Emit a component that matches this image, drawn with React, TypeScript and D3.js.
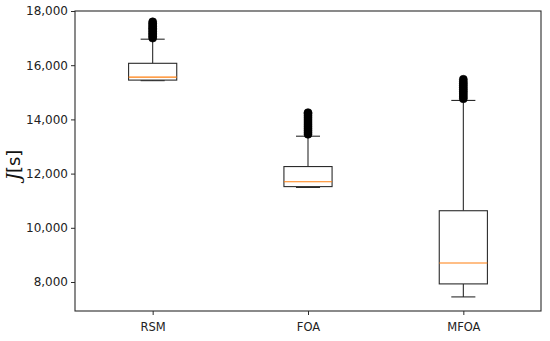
import * as d3 from 'd3'
import { useEffect, useRef } from 'react'

const W = 550
const H = 341
const M = { left: 75, right: 9, top: 11, bottom: 30 }

const categories = ['RSM', 'FOA', 'MFOA']
const q1 = [15450, 11520, 7930]
const medians = [15560, 11700, 8700]
const q3 = [16070, 12260, 10630]
const whiskLow = [15430, 11490, 7450]
const whiskHigh = [16960, 13380, 14700]
const fliersRSM = [17000, 17060, 17120, 17180, 17240, 17300, 17360, 17420, 17480, 17540, 17600]
const fliersFOA = [13450, 13520, 13590, 13660, 13730, 13800, 13870, 13940, 14010, 14080, 14150, 14220, 14250]
const fliersMFOA = [14760, 14830, 14900, 14970, 15040, 15110, 15180, 15250, 15320, 15390, 15480]
const fliers = [fliersRSM, fliersFOA, fliersMFOA]
const yTicks = [8000, 10000, 12000, 14000, 16000, 18000]

export default function App() {
  const ref = useRef<SVGSVGElement>(null)

  useEffect(() => {
    if (!ref.current) return
    const svg = d3.select(ref.current)
    svg.selectAll('*').remove()

    const x = d3.scaleLinear().domain([0.5, 3.5]).range([M.left, W - M.right])
    const y = d3.scaleLinear().domain([6930, 18000]).range([H - M.bottom, M.top])
    const hw = x(1.155) - x(1)
    const capW = hw / 2
    const ink = '#2b2b2b'

    // axes
    const yAxis = d3.axisLeft(y).tickValues(yTicks).tickSize(4).tickPadding(3)
      .tickFormat(d => d3.format(',')(Number(d)))
    const gy = svg.append('g').attr('transform', `translate(${M.left},0)`).call(yAxis)
    const xAxis = d3.axisBottom(x).tickValues([1, 2, 3]).tickSize(4).tickPadding(8)
      .tickFormat((_, i) => categories[i])
    const gx = svg.append('g').attr('transform', `translate(0,${H - M.bottom})`).call(xAxis)
    for (const g of [gx, gy]) {
      g.select('.domain').remove()
      g.selectAll('line').attr('stroke', ink)
      g.selectAll('text').attr('fill', '#222').attr('font-size', 12)
        .attr('font-family', 'DejaVu Sans, sans-serif')
    }
    gx.selectAll('text').attr('font-size', 11.5)

    // frame
    svg.append('rect')
      .attr('x', M.left).attr('y', M.top)
      .attr('width', W - M.left - M.right).attr('height', H - M.top - M.bottom)
      .attr('fill', 'none').attr('stroke', ink).attr('stroke-width', 1.1)

    categories.forEach((_, i) => {
      const cx = x(i + 1)
      const g = svg.append('g')
      // whiskers
      g.append('line').attr('x1', cx).attr('x2', cx).attr('y1', y(q3[i])).attr('y2', y(whiskHigh[i]))
        .attr('stroke', ink).attr('stroke-width', 1.1)
      g.append('line').attr('x1', cx).attr('x2', cx).attr('y1', y(q1[i])).attr('y2', y(whiskLow[i]))
        .attr('stroke', ink).attr('stroke-width', 1.1)
      for (const v of [whiskLow[i], whiskHigh[i]]) {
        g.append('line').attr('x1', cx - capW).attr('x2', cx + capW).attr('y1', y(v)).attr('y2', y(v))
          .attr('stroke', ink).attr('stroke-width', 1.1)
      }
      // box
      g.append('rect')
        .attr('x', cx - hw).attr('width', hw * 2)
        .attr('y', y(q3[i])).attr('height', y(q1[i]) - y(q3[i]))
        .attr('fill', 'white').attr('stroke', ink).attr('stroke-width', 1.1)
      g.append('line').attr('x1', cx - hw).attr('x2', cx + hw).attr('y1', y(medians[i])).attr('y2', y(medians[i]))
        .attr('stroke', '#ff7f0e').attr('stroke-width', 1.1)
      // fliers
      g.selectAll('circle').data(fliers[i]).enter().append('circle')
        .attr('cx', cx).attr('cy', d => y(d)).attr('r', 4)
        .attr('fill', '#000').attr('stroke', '#000').attr('stroke-width', 0.6)
    })

    // y label
    const lab = svg.append('text')
      .attr('transform', `translate(20,165) rotate(-90)`)
      .attr('text-anchor', 'middle')
      .attr('font-size', 18)
      .attr('font-family', 'DejaVu Sans, sans-serif')
      .attr('fill', '#111')
    lab.append('tspan').attr('font-style', 'italic').attr('font-family', 'DejaVu Serif, serif').text('J')
    lab.append('tspan').text('[s]')
  }, [])

  return (
    <svg ref={ref} width={W} height={H}
      style={{ position: 'absolute', left: 0, top: 0, background: 'white' }} />
  )
}
